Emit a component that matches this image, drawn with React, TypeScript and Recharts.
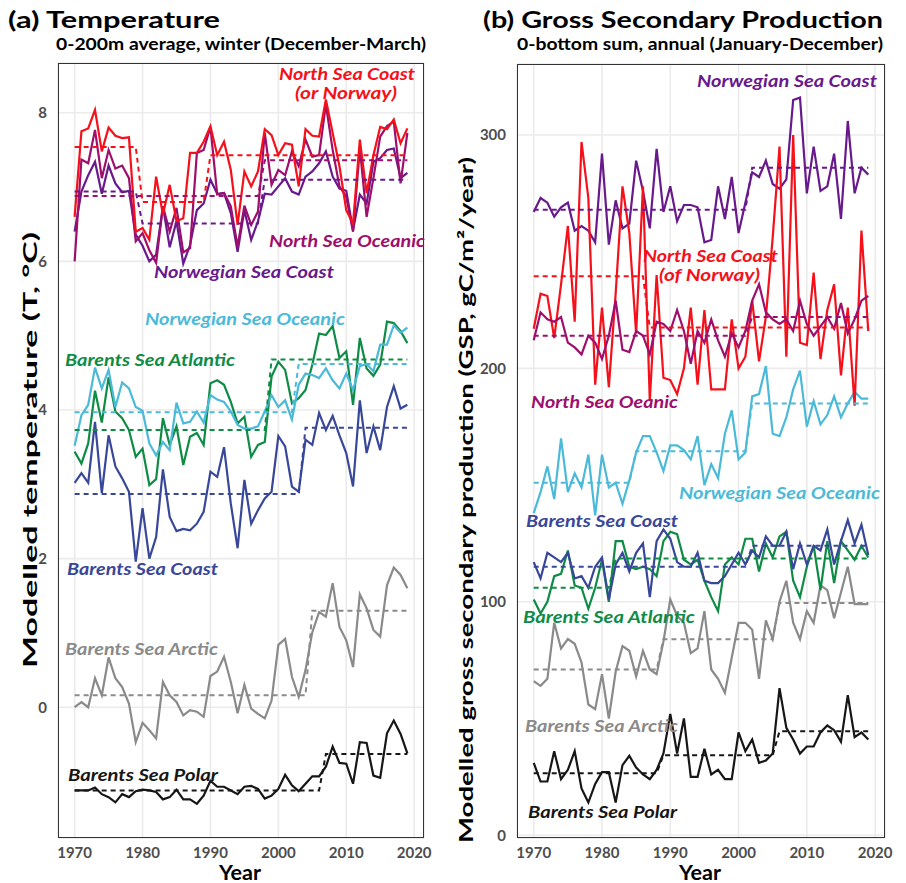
import React from 'react';
import { LineChart, Line, XAxis, YAxis, CartesianGrid } from 'recharts';

const FONT = 'Lato, "Open Sans", sans-serif';
const W = 906;
const H = 883;

const years = Array.from({ length: 50 }, (_, i) => 1970 + i);
const yearTicks = [1970, 1980, 1990, 2000, 2010, 2020];

// (a) winter temperature, 0-200 m average (°C), 1970-2019
const tempNorthSeaCoast = [
  6.60, 7.75, 7.79, 8.04, 7.48, 7.80, 7.69, 7.66, 7.67, 6.40,
  6.45, 6.29, 7.14, 6.63, 7.03, 6.54, 6.58, 7.46, 7.46, 7.61,
  7.82, 7.43, 7.61, 7.23, 6.49, 7.21, 7.01, 7.21, 7.78, 7.70,
  7.43, 7.59, 7.57, 7.01, 7.78, 7.69, 7.68, 8.18, 7.73, 7.28,
  6.69, 6.51, 7.64, 6.92, 7.43, 7.81, 7.78, 7.91, 7.59, 7.79,
];
const tempNorthSeaOceanic = [
  6.00, 7.37, 7.32, 7.77, 7.12, 7.50, 7.25, 7.29, 7.12, 6.27,
  6.38, 6.15, 5.98, 6.74, 6.40, 6.72, 6.12, 6.18, 7.46, 7.50,
  7.81, 6.90, 6.92, 6.74, 6.20, 6.75, 6.49, 6.67, 7.73, 7.03,
  7.23, 7.16, 7.48, 7.28, 7.64, 7.41, 7.43, 8.11, 7.50, 7.01,
  6.87, 6.40, 7.52, 6.60, 7.12, 7.68, 7.82, 7.88, 7.05, 7.73,
];
const tempNorwegianSeaCoast = [
  6.40, 6.94, 7.16, 7.34, 6.91, 7.29, 7.05, 6.93, 6.95, 6.36,
  6.21, 6.00, 6.09, 6.74, 6.19, 6.54, 5.97, 6.22, 6.69, 6.78,
  7.10, 6.91, 6.92, 6.65, 6.13, 6.69, 6.29, 6.54, 6.91, 6.90,
  7.01, 7.12, 6.94, 6.90, 7.14, 7.21, 7.32, 7.48, 7.14, 6.98,
  6.95, 6.42, 6.90, 6.78, 7.34, 7.39, 7.50, 7.52, 7.12, 7.19,
];
const tempNorwegianSeaOceanic = [
  3.52, 3.93, 4.07, 4.57, 4.29, 4.54, 4.04, 4.37, 4.29, 4.04,
  3.99, 3.55, 3.39, 3.57, 3.46, 4.10, 3.82, 3.84, 3.98, 3.83,
  4.20, 4.14, 4.11, 3.98, 3.80, 3.75, 3.75, 3.78, 3.98, 4.20,
  4.04, 4.13, 3.87, 4.34, 4.49, 4.47, 4.43, 4.56, 4.40, 4.29,
  4.49, 4.27, 4.59, 4.62, 4.52, 4.88, 4.88, 5.14, 5.04, 5.11,
];
const tempBarentsAtlantic = [
  3.44, 3.28, 3.55, 4.26, 3.83, 4.44, 3.98, 3.89, 3.73, 3.37,
  3.48, 2.99, 3.07, 3.89, 3.53, 3.78, 3.26, 3.64, 3.69, 3.53,
  4.36, 4.40, 4.34, 4.11, 3.82, 3.91, 3.37, 3.53, 3.57, 4.45,
  4.65, 4.54, 4.09, 4.16, 4.27, 4.61, 5.03, 5.01, 5.13, 4.70,
  4.79, 4.07, 4.97, 4.56, 4.46, 4.61, 5.19, 5.17, 5.06, 4.90,
];
const tempBarentsCoast = [
  3.02, 3.15, 3.02, 3.84, 2.88, 3.66, 3.24, 3.08, 2.90, 1.96,
  2.68, 2.00, 2.29, 3.20, 2.56, 2.37, 2.40, 2.38, 2.47, 2.63,
  3.17, 3.10, 3.50, 2.74, 2.14, 3.06, 2.47, 2.65, 2.81, 2.90,
  3.65, 3.51, 2.97, 2.90, 3.60, 3.53, 3.96, 3.73, 3.92, 3.66,
  3.42, 2.97, 4.13, 3.42, 3.78, 3.46, 4.04, 4.32, 4.02, 4.07,
];
const tempBarentsArctic = [
  0.00, 0.07, 0.00, 0.39, 0.16, 0.67, 0.39, 0.27, 0.05, -0.47,
  -0.21, -0.31, -0.42, 0.34, 0.16, 0.07, -0.11, -0.04, -0.06, -0.13,
  0.42, 0.48, 0.68, 0.34, -0.08, 0.30, -0.02, -0.09, -0.15, 0.09,
  0.84, 0.92, 0.41, 0.14, 0.50, 1.01, 1.28, 1.22, 1.67, 1.08,
  0.90, 0.54, 1.52, 1.33, 1.04, 0.95, 1.64, 1.88, 1.78, 1.60,
];
const tempBarentsPolar = [
  -1.12, -1.12, -1.12, -1.08, -1.17, -1.21, -1.28, -1.17, -1.21, -1.13,
  -1.11, -1.12, -1.14, -1.24, -1.21, -1.11, -1.24, -1.24, -1.30, -1.19,
  -0.99, -1.07, -1.07, -1.12, -1.17, -1.07, -1.06, -1.10, -1.23, -1.19,
  -1.10, -0.91, -1.05, -1.13, -1.03, -0.93, -0.93, -0.80, -0.53, -0.75,
  -0.76, -1.03, -0.47, -0.48, -0.92, -0.95, -0.35, -0.18, -0.36, -0.62,
];

// regime means: [first year, last year, mean]
const tempNorthSeaCoastRegimes = [[1970, 1979, 7.54], [1980, 1989, 6.80], [1990, 2019, 7.43]];
const tempNorthSeaOceanicRegimes = [[1970, 1997, 6.88], [1998, 2019, 7.36]];
const tempNorwegianSeaCoastRegimes = [[1970, 1979, 6.94], [1980, 1997, 6.51], [1998, 2019, 7.10]];
const tempNorwegianSeaOceanicRegimes = [[1970, 2002, 3.97], [2003, 2019, 4.62]];
const tempBarentsAtlanticRegimes = [[1970, 1998, 3.73], [1999, 2019, 4.68]];
const tempBarentsCoastRegimes = [[1970, 2003, 2.87], [2004, 2019, 3.76]];
const tempBarentsArcticRegimes = [[1970, 2004, 0.16], [2005, 2019, 1.30]];
const tempBarentsPolarRegimes = [[1970, 2006, -1.12], [2007, 2019, -0.63]];

// (b) gross secondary production, 0-bottom annual sum (gC/m²/year), 1970-2019
const gspNorwegianSeaCoast = [
  267, 273, 271, 265, 269, 271, 259, 261, 259, 254,
  292, 253, 272, 260, 262, 289, 276, 260, 294, 267,
  278, 263, 270, 270, 269, 254, 255, 278, 264, 282,
  258, 271, 284, 282, 289, 279, 277, 281, 315, 316,
  275, 295, 276, 278, 292, 264, 306, 275, 286, 283,
];
const gspNorthSeaCoast = [
  217, 232, 231, 213, 236, 261, 220, 297, 273, 193,
  226, 192, 232, 278, 258, 215, 278, 186, 240, 196,
  195, 189, 200, 226, 193, 225, 191, 191, 191, 221,
  200, 205, 229, 203, 222, 256, 295, 205, 300, 211,
  210, 241, 204, 225, 236, 197, 226, 184, 259, 216,
];
const gspNorthSeaOceanic = [
  212, 224, 221, 220, 222, 211, 209, 206, 214, 211,
  204, 214, 229, 208, 207, 216, 214, 206, 220, 219,
  216, 225, 216, 202, 216, 211, 221, 212, 205, 215,
  209, 216, 229, 236, 224, 221, 219, 221, 216, 229,
  219, 214, 218, 222, 217, 228, 215, 221, 229, 231,
];
const gspNorwegianSeaOceanic = [
  138, 147, 158, 144, 170, 147, 155, 149, 163, 137,
  163, 149, 151, 142, 152, 164, 171, 171, 164, 156,
  167, 167, 165, 161, 171, 150, 159, 153, 172, 182,
  161, 164, 188, 189, 201, 172, 171, 179, 191, 199,
  175, 186, 176, 180, 188, 179, 185, 190, 187, 187,
];
const gspBarentsCoast = [
  117, 110, 121, 119, 117, 121, 110, 111, 106, 115,
  119, 101, 116, 121, 113, 121, 125, 102, 126, 131,
  127, 117, 115, 115, 121, 109, 108, 108, 111, 116,
  121, 116, 122, 119, 128, 124, 124, 130, 114, 125,
  116, 124, 122, 131, 116, 126, 135, 125, 133, 120,
];
const gspBarentsAtlantic = [
  101, 95, 100, 111, 112, 122, 107, 106, 97, 106,
  118, 100, 126, 126, 115, 114, 115, 114, 111, 126,
  130, 129, 118, 116, 118, 109, 102, 96, 116, 119,
  116, 127, 127, 113, 125, 119, 128, 130, 109, 102,
  115, 124, 105, 126, 108, 126, 122, 118, 124, 119,
];
const gspBarentsArctic = [
  66, 64, 67, 91, 80, 84, 82, 74, 56, 54,
  69, 50, 70, 81, 79, 68, 79, 71, 69, 83,
  101, 94, 91, 78, 80, 96, 71, 67, 61, 76,
  91, 91, 88, 67, 92, 84, 100, 109, 91, 84,
  96, 91, 107, 105, 93, 104, 115, 99, 99, 99,
];
const gspBarentsPolar = [
  31, 23, 23, 36, 24, 28, 36, 20, 14, 22,
  27, 27, 14, 30, 34, 29, 26, 24, 28, 35,
  52, 35, 50, 25, 25, 37, 26, 28, 24, 24,
  44, 36, 41, 31, 32, 35, 63, 46, 41, 35,
  38, 38, 44, 47, 45, 40, 60, 42, 44, 41,
];

const gspNorwegianSeaCoastRegimes = [[1970, 2001, 268], [2002, 2019, 286]];
const gspNorthSeaCoastRegimes = [[1970, 1986, 239.5], [1987, 2019, 217.5]];
const gspNorthSeaOceanicRegimes = [[1970, 2001, 214], [2002, 2019, 222]];
const gspNorwegianSeaOceanicRegimes = [[1970, 1984, 151], [1985, 2001, 164.5], [2002, 2019, 185]];
const gspBarentsCoastRegimes = [[1970, 2001, 115], [2002, 2019, 124]];
const gspBarentsAtlanticRegimes = [[1970, 1981, 106], [1982, 2019, 118.5]];
const gspBarentsArcticRegimes = [[1970, 1988, 71], [1989, 2005, 84], [2006, 2019, 99.5]];
const gspBarentsPolarRegimes = [[1970, 1988, 26.5], [1989, 2005, 34.3], [2006, 2019, 44.5]];

const C = {
  nsc: '#F5101A',
  nso: '#9E0E6C',
  nwc: '#68198C',
  nwo: '#4BBAD8',
  bsa: '#0E8C45',
  bsc: '#384799',
  bsar: '#8A8A8A',
  bsp: '#161616',
};

type Series = { key: string; color: string; values: number[]; regimes: number[][] };

const tempSeries: Series[] = [
  { key: 'bsp', color: C.bsp, values: tempBarentsPolar, regimes: tempBarentsPolarRegimes },
  { key: 'bsar', color: C.bsar, values: tempBarentsArctic, regimes: tempBarentsArcticRegimes },
  { key: 'bsc', color: C.bsc, values: tempBarentsCoast, regimes: tempBarentsCoastRegimes },
  { key: 'bsa', color: C.bsa, values: tempBarentsAtlantic, regimes: tempBarentsAtlanticRegimes },
  { key: 'nwo', color: C.nwo, values: tempNorwegianSeaOceanic, regimes: tempNorwegianSeaOceanicRegimes },
  { key: 'nwc', color: C.nwc, values: tempNorwegianSeaCoast, regimes: tempNorwegianSeaCoastRegimes },
  { key: 'nso', color: C.nso, values: tempNorthSeaOceanic, regimes: tempNorthSeaOceanicRegimes },
  { key: 'nsc', color: C.nsc, values: tempNorthSeaCoast, regimes: tempNorthSeaCoastRegimes },
];

const gspSeries: Series[] = [
  { key: 'bsp', color: C.bsp, values: gspBarentsPolar, regimes: gspBarentsPolarRegimes },
  { key: 'bsar', color: C.bsar, values: gspBarentsArctic, regimes: gspBarentsArcticRegimes },
  { key: 'bsa', color: C.bsa, values: gspBarentsAtlantic, regimes: gspBarentsAtlanticRegimes },
  { key: 'bsc', color: C.bsc, values: gspBarentsCoast, regimes: gspBarentsCoastRegimes },
  { key: 'nwo', color: C.nwo, values: gspNorwegianSeaOceanic, regimes: gspNorwegianSeaOceanicRegimes },
  { key: 'nwc', color: C.nwc, values: gspNorwegianSeaCoast, regimes: gspNorwegianSeaCoastRegimes },
  { key: 'nsc', color: C.nsc, values: gspNorthSeaCoast, regimes: gspNorthSeaCoastRegimes },
  { key: 'nso', color: C.nso, values: gspNorthSeaOceanic, regimes: gspNorthSeaOceanicRegimes },
];

function buildRows(series: Series[]) {
  return years.map((year, i) => {
    const row: Record<string, number> = { year };
    series.forEach((s) => {
      row[s.key] = s.values[i];
      const r = s.regimes.find(([a, b]) => year >= a && year <= b);
      if (r) row[s.key + 'Mean'] = r[2];
    });
    return row;
  });
}

const tickStyle = { fill: '#4D4D4D', fontSize: 15, fontWeight: 700, fontFamily: FONT };

interface PanelProps {
  left: number;
  width: number;
  top: number;
  right: number;
  yWidth: number;
  series: Series[];
  yDomain: [number, number];
  yTicks: number[];
}

function Panel({ left, width, top, right, yWidth, series, yDomain, yTicks }: PanelProps) {
  const rows = buildRows(series);
  const bottom = 15;
  const xHeight = 30;
  return (
    <div style={{ position: 'absolute', left, top: 0, width, height: H }}>
      <LineChart width={width} height={H} data={rows} margin={{ top, right, bottom, left: 0 }}>
        <CartesianGrid stroke="#EBEBEB" strokeWidth={1.6} />
        <XAxis
          type="number"
          dataKey="year"
          domain={[1967.55, 2021.45]}
          ticks={yearTicks}
          interval={0}
          allowDataOverflow
          axisLine={false}
          tickLine={false}
          tickSize={0}
          tickMargin={9}
          height={xHeight}
          tick={tickStyle}
        />
        <YAxis
          type="number"
          domain={yDomain}
          ticks={yTicks}
          interval={0}
          allowDataOverflow
          axisLine={false}
          tickLine={false}
          tickSize={0}
          tickMargin={11}
          width={yWidth}
          tick={tickStyle}
        />
        {series.map((s) => (
          <Line key={s.key} type="linear" dataKey={s.key} stroke={s.color} strokeWidth={2.2} dot={false} isAnimationActive={false} />
        ))}
        {series.map((s) => (
          <Line key={s.key + 'Mean'} type="linear" dataKey={s.key + 'Mean'} stroke={s.color} strokeWidth={2} strokeDasharray="5 4" dot={false} isAnimationActive={false} />
        ))}
      </LineChart>
      <div
        style={{
          position: 'absolute',
          left: yWidth,
          top,
          width: width - yWidth - right,
          height: H - top - bottom - xHeight,
          border: '1.3px solid #333',
          boxSizing: 'border-box',
          pointerEvents: 'none',
        }}
      />
    </div>
  );
}

type Label = { text: string; x: number; y: number; len: number; color: string; size?: number; italic?: boolean; rotate?: boolean; anchor?: string };

const labels: Label[] = [
  // titles
  { text: '(a) Temperature', x: 8, y: 28, len: 212, color: '#000', size: 22 },
  { text: '0-200m average, winter (December-March)', x: 56, y: 50, len: 370, color: '#000', size: 17 },
  { text: '(b) Gross Secondary Production', x: 483, y: 28, len: 400, color: '#000', size: 22 },
  { text: '0-bottom sum, annual (January-December)', x: 517, y: 50, len: 366, color: '#000', size: 17 },
  // axis titles
  { text: 'Modelled temperature (T, °C)', x: 37, y: 450, len: 436, color: '#000', size: 19, rotate: true, anchor: 'middle' },
  { text: 'Modelled gross secondary production (GSP, gC/m²/year)', x: 473, y: 500, len: 686, color: '#000', size: 19, rotate: true, anchor: 'middle' },
  { text: 'Year', x: 240, y: 880, len: 42, color: '#000', size: 20, anchor: 'middle' },
  { text: 'Year', x: 700, y: 880, len: 42, color: '#000', size: 20, anchor: 'middle' },
  // panel (a) series names
  { text: 'North Sea Coast', x: 279, y: 80, len: 136, color: C.nsc, italic: true },
  { text: '(or Norway)', x: 295, y: 99, len: 102, color: C.nsc, italic: true },
  { text: 'North Sea Oceanic', x: 269, y: 247, len: 156, color: C.nso, italic: true },
  { text: 'Norwegian Sea Coast', x: 154, y: 278, len: 180, color: C.nwc, italic: true },
  { text: 'Norwegian Sea Oceanic', x: 145, y: 325, len: 200, color: C.nwo, italic: true },
  { text: 'Barents Sea Atlantic', x: 65, y: 366, len: 170, color: C.bsa, italic: true },
  { text: 'Barents Sea Coast', x: 67, y: 575, len: 151, color: C.bsc, italic: true },
  { text: 'Barents Sea Arctic', x: 65, y: 655, len: 153, color: C.bsar, italic: true },
  { text: 'Barents Sea Polar', x: 68, y: 781, len: 150, color: C.bsp, italic: true },
  // panel (b) series names
  { text: 'Norwegian Sea Coast', x: 697, y: 87, len: 180, color: C.nwc, italic: true },
  { text: 'North Sea Coast', x: 643, y: 262, len: 135, color: C.nsc, italic: true },
  { text: '(of Norway)', x: 659, y: 281, len: 101, color: C.nsc, italic: true },
  { text: 'North Sea Oeanic', x: 531, y: 408, len: 147, color: C.nso, italic: true },
  { text: 'Norwegian Sea Oceanic', x: 679, y: 499, len: 201, color: C.nwo, italic: true },
  { text: 'Barents Sea Coast', x: 526, y: 527, len: 152, color: C.bsc, italic: true },
  { text: 'Barents Sea Atlantic', x: 523, y: 623, len: 172, color: C.bsa, italic: true },
  { text: 'Barents Sea Arctic', x: 525, y: 732, len: 153, color: C.bsar, italic: true },
  { text: 'Barents Sea Polar', x: 528, y: 818, len: 149, color: C.bsp, italic: true },
];

export default function App() {
  return (
    <div style={{ position: 'absolute', left: 0, top: 0, width: W, height: H, background: '#fff', fontFamily: FONT }}>
      <Panel left={0} width={440} top={63} right={16} yWidth={58} series={tempSeries} yDomain={[-1.76, 8.67]} yTicks={[0, 2, 4, 6, 8]} />
      <Panel left={440} width={466} top={64} right={21} yWidth={77} series={gspSeries} yDomain={[-1.2, 330.4]} yTicks={[0, 100, 200, 300]} />
      <svg width={W} height={H} style={{ position: 'absolute', left: 0, top: 0, pointerEvents: 'none' }}>
        {labels.map((l, i) => (
          <text
            key={i}
            x={l.x}
            y={l.y}
            fill={l.color}
            fontFamily={FONT}
            fontSize={l.size ?? 17}
            fontWeight={700}
            fontStyle={l.italic ? 'italic' : 'normal'}
            textAnchor={l.anchor ?? 'start'}
            textLength={l.len}
            lengthAdjust="spacingAndGlyphs"
            transform={l.rotate ? `rotate(-90 ${l.x} ${l.y})` : undefined}
          >
            {l.text}
          </text>
        ))}
      </svg>
    </div>
  );
}
